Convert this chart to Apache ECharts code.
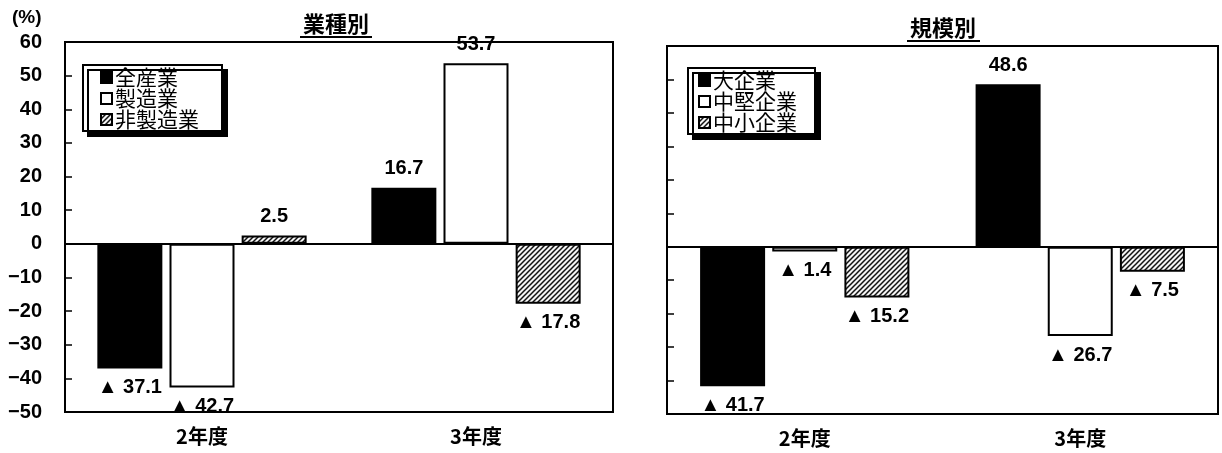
<!DOCTYPE html>
<html>
<head>
<meta charset="utf-8">
<script src="https://cdn.jsdelivr.net/npm/echarts@6/dist/echarts.min.js"></script>
<style>
  html, body { margin: 0; padding: 0; background: #fff; }
  #chart { width: 1222px; height: 453px; }
</style>
</head>
<body>
<div id="chart"></div>
<script>
// Fiscal years on the category axis
const categories = ['2年度', '3年度'];

// Left panel: by industry (%)
const industryNames = ['全産業', '製造業', '非製造業'];
const allIndustry = [-37.1, 16.7];
const manufacturing = [-42.7, 53.7];
const nonManufacturing = [2.5, -17.8];

// Right panel: by company size (%)
const sizeNames = ['大企業', '中堅企業', '中小企業'];
const largeFirms = [-41.7, 48.6];
const midsizeFirms = [-1.4, -26.7];
const smallFirms = [-15.2, -7.5];

// Value axis range
const yMin = -50;
const yMax = 60;
const yStep = 10;

const NUM_FONT = '"Liberation Sans", "DejaVu Sans", sans-serif';
const JP_FONT = '"Noto Sans CJK JP", sans-serif';

// Diagonal hatch fill used for the third series of each panel
function hatchPattern() {
  const s = 5;
  const c = document.createElement('canvas');
  c.width = s; c.height = s;
  const g = c.getContext('2d');
  g.fillStyle = '#f4f4f4';
  g.fillRect(0, 0, s, s);
  g.strokeStyle = '#111';
  g.lineWidth = 1.5;
  g.beginPath();
  g.moveTo(-1, s + 1); g.lineTo(s + 1, -1);
  g.moveTo(-1, 1); g.lineTo(1, -1);
  g.moveTo(s - 1, s + 1); g.lineTo(s + 1, s - 1);
  g.stroke();
  return c;
}
const hatch = { image: hatchPattern(), repeat: 'repeat' };

const fills = ['#000', '#fff', hatch];

function fmt(v) {
  return v < 0 ? '▲ ' + Math.abs(v).toFixed(1) : v.toFixed(1);
}

function barSeries(name, values, fill, axisIdx) {
  return {
    name: name,
    type: 'bar',
    xAxisIndex: axisIdx * 2,
    yAxisIndex: axisIdx,
    data: values,
    barWidth: 65,
    barGap: '11%',
    itemStyle: { color: fill, borderColor: '#000', borderWidth: 2 },
    label: {
      show: true,
      position: 'outside',
      distance: 9,
      formatter: p => fmt(p.value),
      fontFamily: NUM_FONT,
      fontSize: 20,
      fontWeight: 'bold',
      color: '#000'
    },
    emphasis: { disabled: true },
    animation: false
  };
}

const gridCommon = {
  show: true, borderColor: '#000', borderWidth: 2, backgroundColor: '#fff'
};

function zeroAxis(gi) {
  return {
    gridIndex: gi, type: 'category', data: categories, position: 'bottom',
    axisLine: { onZero: true, lineStyle: { color: '#000', width: 2 } },
    axisTick: { inside: true, length: 6, lineStyle: { color: '#000', width: 1.5 } },
    axisLabel: { show: false }
  };
}
function labelAxis(gi) {
  return {
    gridIndex: gi, type: 'category', data: categories, position: 'bottom',
    axisLine: { show: false, onZero: false },
    axisTick: { show: false },
    axisLabel: { margin: 14, fontSize: 20, fontWeight: 'bold', color: '#000', fontFamily: JP_FONT }
  };
}
function valueAxis(gi, showLabels) {
  return {
    gridIndex: gi, type: 'value', min: yMin, max: yMax, interval: yStep,
    axisLine: { show: true, lineStyle: { color: '#000', width: 2 } },
    axisTick: { show: true, inside: true, length: 7, lineStyle: { color: '#000', width: 1.5 } },
    splitLine: { show: false },
    axisLabel: {
      show: showLabels, margin: 23, fontSize: 20, fontWeight: 'bold', color: '#000',
      fontFamily: NUM_FONT,
      formatter: v => String(v).replace('-', '−')
    }
  };
}

function legendBox(names, left, top, padding) {
  return {
    data: names, left: left, top: top, orient: 'vertical',
    icon: 'rect', itemWidth: 11, itemHeight: 11, itemGap: 0,
    selectedMode: false,
    padding: padding,
    backgroundColor: '#fff', borderColor: '#000', borderWidth: 2,
    shadowColor: '#000', shadowBlur: 0, shadowOffsetX: 5, shadowOffsetY: 5,
    textStyle: { fontSize: 21, fontFamily: JP_FONT, color: '#000', padding: [0, 0, 0, -2] }
  };
}

function titleText(text, cx, top, x1, x2, lineY) {
  return [
    {
      type: 'text', x: cx, y: top,
      style: { text: text, fontSize: 22, fontWeight: 'bold', fontFamily: JP_FONT, fill: '#000', align: 'center', verticalAlign: 'top' }
    },
    {
      type: 'line', shape: { x1: x1, y1: lineY, x2: x2, y2: lineY },
      style: { stroke: '#000', lineWidth: 2 }
    }
  ];
}

const chart = echarts.init(document.getElementById('chart'), null, { renderer: 'canvas' });
chart.setOption({
  animation: false,
  backgroundColor: '#fff',
  grid: [
    Object.assign({ left: 65, top: 42, width: 548, height: 370 }, gridCommon),
    Object.assign({ left: 667, top: 46, width: 551, height: 368 }, gridCommon)
  ],
  xAxis: [zeroAxis(0), labelAxis(0), zeroAxis(1), labelAxis(1)],
  yAxis: [valueAxis(0, true), valueAxis(1, false)],
  legend: [
    legendBox(industryNames, 83, 65, [2, 23, 1, 17]),
    legendBox(sizeNames, 688, 68, [2, 18, 1, 10])
  ],
  graphic: [
    {
      type: 'text', x: 12, y: 8,
      style: { text: '(%)', fontSize: 19, fontWeight: 'bold', fontFamily: NUM_FONT, fill: '#000' }
    },
    ...titleText('業種別', 336, 13, 300, 372, 37),
    ...titleText('規模別', 943, 17, 907, 980, 41)
  ],
  series: [
    barSeries(industryNames[0], allIndustry, fills[0], 0),
    barSeries(industryNames[1], manufacturing, fills[1], 0),
    barSeries(industryNames[2], nonManufacturing, fills[2], 0),
    barSeries(sizeNames[0], largeFirms, fills[0], 1),
    barSeries(sizeNames[1], midsizeFirms, fills[1], 1),
    barSeries(sizeNames[2], smallFirms, fills[2], 1)
  ]
});
</script>
</body>
</html>
